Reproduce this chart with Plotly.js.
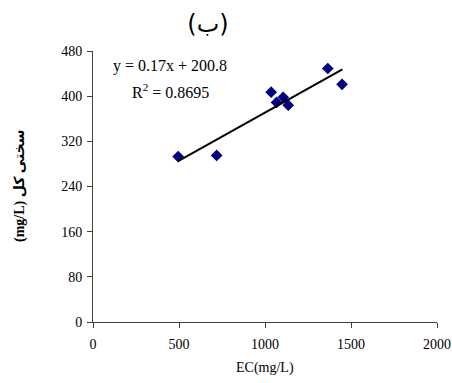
<!DOCTYPE html>
<html>
<head>
<meta charset="utf-8">
<script src="https://cdn.plot.ly/plotly-3.0.1.min.js"></script>
<style>body{margin:0;padding:0;background:#fff}#chart{width:452px;height:383px}</style>
</head>
<body>
<div id="chart"></div>
<script>
const ecValues = [495, 719, 1036, 1067, 1106, 1135, 1365, 1448];
const hardnessValues = [293, 295, 407, 389, 398, 384, 449, 421];
const trendSlope = 0.17;
const trendIntercept = 200.8;
const trendRange = [495, 1450];
const xTicks = [0, 500, 1000, 1500, 2000];
const yTicks = [0, 80, 160, 240, 320, 400, 480];
const chartTitle = '(ب)';
const xTitle = 'EC(mg/L)';
const yTitle = '<b>(mg/L) سختی کل</b>';
const eqText = 'y = 0.17x + 200.8';
const r2Text = 'R<sup>2</sup> = 0.8695';

const serif = 'Liberation Serif, Times New Roman, serif';

const traces = [
  {
    x: ecValues, y: hardnessValues, type: 'scatter', mode: 'markers',
    marker: {symbol: 'diamond', size: 9, color: '#000080', line: {color: '#000080', width: 0}},
    showlegend: false, hoverinfo: 'skip'
  },
  {
    x: trendRange, y: trendRange.map(v => trendSlope * v + trendIntercept),
    type: 'scatter', mode: 'lines', line: {color: '#000000', width: 2},
    showlegend: false, hoverinfo: 'skip'
  }
];

const layout = {
  width: 452, height: 383,
  margin: {l: 93, r: 15, t: 51, b: 61},
  paper_bgcolor: '#ffffff', plot_bgcolor: '#ffffff',
  font: {family: serif, color: '#000000', size: 14},
  title: {text: chartTitle, x: 208/452, xanchor: 'center', y: 1 - 24/383, yanchor: 'middle',
          font: {family: 'DejaVu Sans, sans-serif', size: 24, color: '#000'}},
  xaxis: {
    range: [0, 2000], tickvals: xTicks, ticktext: xTicks.map(String),
    showgrid: false, zeroline: false, showline: true, linecolor: '#404040', linewidth: 1,
    ticks: 'outside', ticklen: 5, tickcolor: '#404040', ticklabelstandoff: 4,
    tickfont: {family: serif, size: 14}
  },
  yaxis: {
    range: [0, 480], tickvals: yTicks, ticktext: yTicks.map(String),
    showgrid: false, zeroline: false, showline: true, linecolor: '#404040', linewidth: 1,
    ticks: 'outside', ticklen: 5, tickcolor: '#404040', ticklabelstandoff: 2,
    tickfont: {family: serif, size: 14}
  },
  annotations: [
    {text: eqText, xref: 'paper', yref: 'paper', x: (170-93)/344, y: (322-66)/271,
     xanchor: 'center', yanchor: 'middle', showarrow: false, font: {family: serif, size: 16}},
    {text: r2Text, xref: 'paper', yref: 'paper', x: (170-93)/344, y: (322-91)/271,
     xanchor: 'center', yanchor: 'middle', showarrow: false, font: {family: serif, size: 16}},
    {text: xTitle, xref: 'paper', yref: 'paper', x: 0.5, y: (322-368)/271,
     xanchor: 'center', yanchor: 'middle', showarrow: false, font: {family: serif, size: 14}},
    {text: yTitle, xref: 'paper', yref: 'paper', x: (20-93)/344, y: (322-186)/271,
     xanchor: 'center', yanchor: 'middle', textangle: -90, showarrow: false,
     font: {family: 'Liberation Serif, DejaVu Sans, serif', size: 14}}
  ]
};

Plotly.newPlot('chart', traces, layout, {displayModeBar: false, staticPlot: true});
</script>
</body>
</html>
